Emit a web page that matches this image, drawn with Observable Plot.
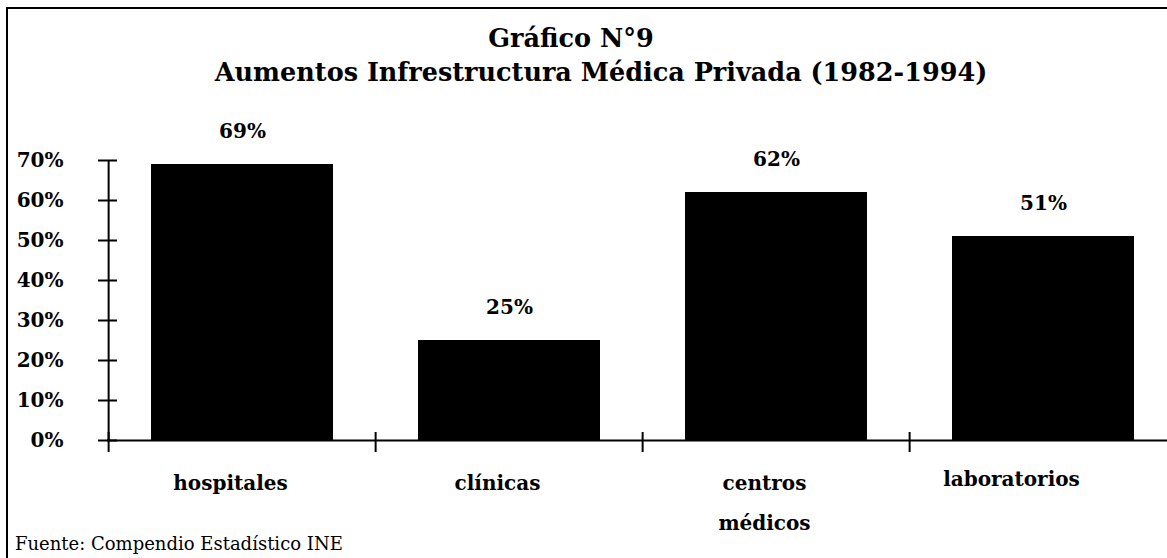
<!DOCTYPE html>
<html><head><meta charset="utf-8">
<script src="https://cdn.jsdelivr.net/npm/d3@7"></script>
<script src="https://cdn.jsdelivr.net/npm/@observablehq/plot@0.6"></script>
<style>
body{margin:0;background:#fff;}
#wrap{position:relative;width:1167px;height:558px;overflow:hidden;background:#fff;font-family:"DejaVu Serif",serif;color:#000;}
#frame{position:absolute;left:6px;top:7px;width:1200px;height:600px;border-left:2px solid #000;border-top:2px solid #000;}
.t{position:absolute;white-space:nowrap;line-height:1;}
#t1{left:571px;top:26px;transform:translateX(-50%);font-size:25.5px;font-weight:bold;}
#t2{left:601px;top:60px;transform:translateX(-50%);font-size:25.5px;font-weight:bold;}
#cap{left:15px;top:535px;font-size:18px;}
#chart{position:absolute;left:0;top:0;}
</style></head>
<body>
<div id="wrap">
  <div id="frame"></div>
  <div class="t" id="t1">Gráfico N°9</div>
  <div class="t" id="t2">Aumentos Infrestructura Médica Privada (1982-1994)</div>
  <div id="chart"></div>
  <div class="t" id="cap">Fuente: Compendio Estadístico INE</div>
</div>
<script>
const categories = ["hospitales", "clínicas", "centros\nmédicos", "laboratorios"];
const values = [69, 25, 62, 51];
const valueLabels = ["69%", "25%", "62%", "51%"];
const yTicks = [0, 10, 20, 30, 40, 50, 60, 70];

const data = categories.map((c, i) => ({category: c, value: values[i], label: valueLabels[i]}));

const xRange = [107, 1178];
const step = (xRange[1] - xRange[0]) / categories.length;

const plot = Plot.plot({
  width: 1167, height: 558,
  marginLeft: 107, marginRight: 0, marginTop: 160, marginBottom: 118,
  style: {fontFamily: "DejaVu Serif", fontSize: "20px", fontWeight: "bold", background: "transparent", color: "#000", overflow: "visible"},
  x: {domain: categories, range: xRange, paddingInner: 0.32, paddingOuter: 0.16, axis: null},
  y: {domain: [0, 70], range: [440, 160], axis: null},
  marks: [
    Plot.barY(data, {x: "category", y: "value", fill: "#000"}),
    Plot.ruleY([0], {strokeWidth: 2}),
    Plot.ruleX([categories[0]], {x: d => d, dx: -step / 2, y1: 0, y2: 70, strokeWidth: 2}),
    Plot.ruleX(categories, {x: d => d, dx: -step / 2, y1: -3, y2: 2, strokeWidth: 2}),
    Plot.axisY(yTicks, {tickSize: 19, dx: 10, tickFormat: () => "", strokeWidth: 2, label: null}),
    Plot.axisY(yTicks, {tickSize: 0, tickPadding: 44, tickFormat: d => d + "%", label: null}),
    Plot.text(data, {x: "category", y: "value", text: "label", dy: -33}),
    Plot.text(data.slice(0, 3), {x: "category", y: 0, text: "category", lineAnchor: "top", dy: 21, dx: -12, lineHeight: 2}),
    Plot.text(data.slice(3), {x: "category", y: 0, text: "category", lineAnchor: "top", dy: 31, dx: -32})
  ]
});
document.getElementById("chart").appendChild(plot);
</script>
</body></html>
